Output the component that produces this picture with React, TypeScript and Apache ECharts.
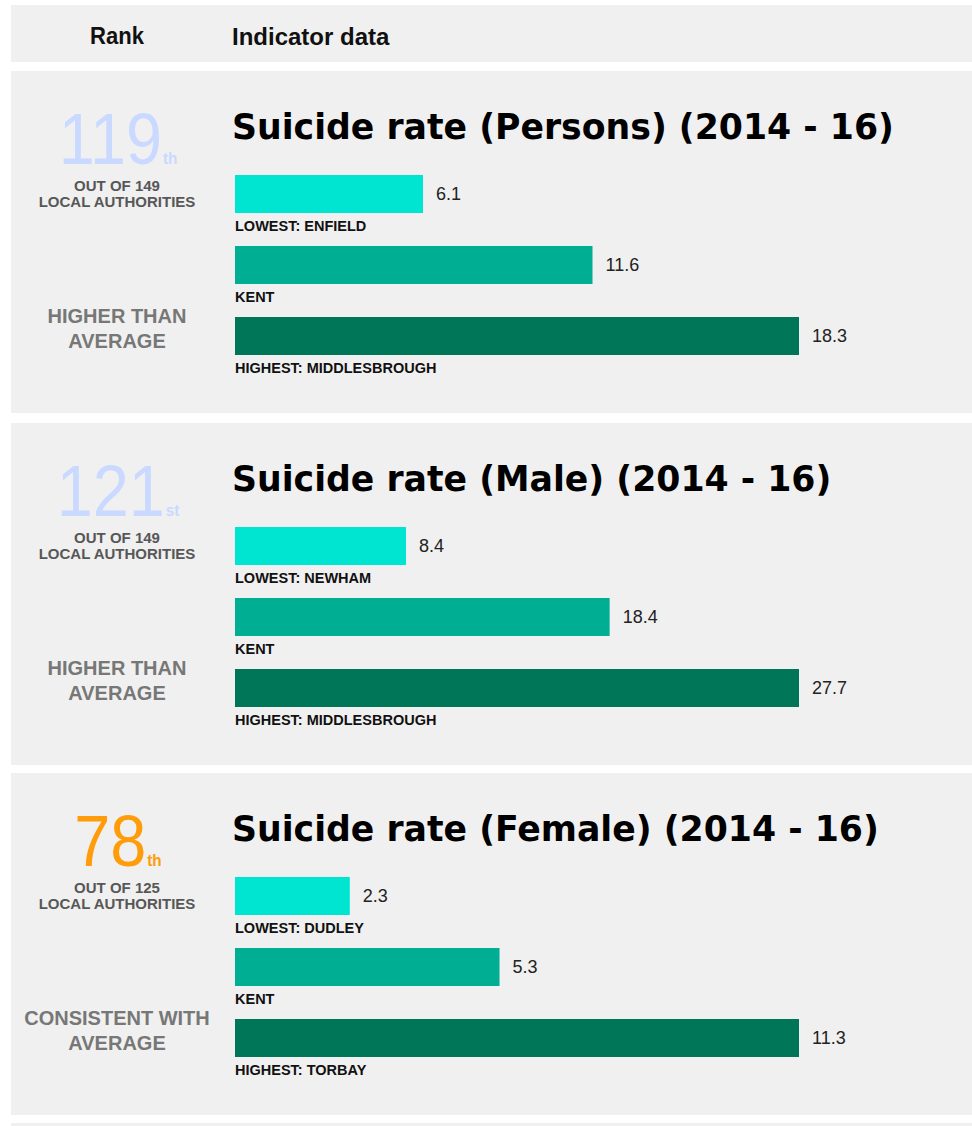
import React, { useEffect, useRef } from "react";
import * as echarts from "echarts";

const panelTitles = [
  "Suicide rate (Persons) (2014 - 16)",
  "Suicide rate (Male) (2014 - 16)",
  "Suicide rate (Female) (2014 - 16)",
];
const rankNumbers = ["119", "121", "78"];
const rankSuffixes = ["th", "st", "th"];
const rankOutOf = ["OUT OF 149", "OUT OF 149", "OUT OF 125"];
const rankColors = ["#cad9ff", "#cad9ff", "#ff9c0a"];
const comparisons = ["HIGHER THAN\nAVERAGE", "HIGHER THAN\nAVERAGE", "CONSISTENT WITH\nAVERAGE"];

const personsCategories = ["LOWEST: ENFIELD", "KENT", "HIGHEST: MIDDLESBROUGH"];
const personsValues = [6.1, 11.6, 18.3];
const maleCategories = ["LOWEST: NEWHAM", "KENT", "HIGHEST: MIDDLESBROUGH"];
const maleValues = [8.4, 18.4, 27.7];
const femaleCategories = ["LOWEST: DUDLEY", "KENT", "HIGHEST: TORBAY"];
const femaleValues = [2.3, 5.3, 11.3];

const barColors = ["#00e5d2", "#00ae94", "#007658"];

const panelCategories = [personsCategories, maleCategories, femaleCategories];
const panelValues = [personsValues, maleValues, femaleValues];

const W = 972;
const H = 1126;
const PANEL_TOP = [71, 423, 773];
const PANEL_H = 342;
const SANS = "'Liberation Sans', Arial, sans-serif";
const TITLE_FONT = "'DejaVu Sans', Verdana, sans-serif";

export default function App() {
  const ref = useRef<HTMLDivElement>(null);

  useEffect(() => {
    document.body.style.margin = "0";
    const chart = echarts.init(ref.current!, null, { renderer: "svg" });

    const graphics: any[] = [];
    graphics.push({ type: "rect", shape: { x: 11, y: 5, width: W - 11, height: 57 }, style: { fill: "#f0f0f0" }, silent: true });
    graphics.push({ type: "text", x: 117, y: 36, scaleX: 0.92, originX: 0, style: { text: "Rank", font: `bold 24px ${SANS}`, fill: "#111", textAlign: "center", textVerticalAlign: "middle" } });
    graphics.push({ type: "text", x: 232, y: 36, style: { text: "Indicator data", font: `bold 24px ${SANS}`, fill: "#111", textAlign: "left", textVerticalAlign: "middle" } });
    graphics.push({ type: "rect", shape: { x: 11, y: 1123, width: W - 11, height: 10 }, style: { fill: "#f0f0f0" }, silent: true });

    const grids: any[] = [];
    const xAxes: any[] = [];
    const yAxes: any[] = [];
    const series: any[] = [];

    for (let i = 0; i < 3; i++) {
      const top = PANEL_TOP[i];
      const off = top - 71;
      graphics.push({ type: "rect", shape: { x: 11, y: top, width: W - 11, height: PANEL_H }, style: { fill: "#f0f0f0" }, silent: true });
      graphics.push({
        type: "text", x: 232, y: 127 + off,
        style: { text: panelTitles[i], font: `bold 34.7px ${TITLE_FONT}`, fill: "#000", textAlign: "left", textVerticalAlign: "middle" },
      });
      graphics.push({
        type: "text", x: 118, y: 103 + off, scaleX: 0.9, originX: 0,
        style: {
          text: `{n|${rankNumbers[i]}}{s|${rankSuffixes[i]}}`,
          textAlign: "center", textVerticalAlign: "top",
          rich: {
            n: { fontSize: 72, fontFamily: SANS, fill: rankColors[i], lineHeight: 72, verticalAlign: "bottom" },
            s: { fontSize: 17, fontWeight: "bold", fontFamily: SANS, fill: rankColors[i], lineHeight: 17, verticalAlign: "bottom", padding: [0, 0, 9, 1] },
          },
        },
      });
      graphics.push({
        type: "text", x: 117, y: 193 + off,
        style: { text: `${rankOutOf[i]}\nLOCAL AUTHORITIES`, font: `bold 15px ${SANS}`, fill: "#575757", textAlign: "center", textVerticalAlign: "middle", lineHeight: 16 },
      });
      graphics.push({
        type: "text", x: 117, y: 328 + off,
        style: { text: comparisons[i], font: `bold 20px ${SANS}`, fill: "#777777", textAlign: "center", textVerticalAlign: "middle", lineHeight: 25 },
      });

      const vals = panelValues[i];
      const cats = panelCategories[i];
      const maxV = Math.max(...vals);
      grids.push({ left: 235, width: 564, top: 158.5 + off, height: 213, containLabel: false });
      xAxes.push({ gridIndex: i, type: "value", min: 0, max: maxV, show: false });
      yAxes.push({ gridIndex: i, type: "category", data: cats, inverse: true, show: false });
      series.push({
        type: "bar", xAxisIndex: i, yAxisIndex: i, barWidth: 38, silent: true,
        data: vals.map((v, k) => ({ value: v, itemStyle: { color: barColors[k] } })),
        label: { show: true, position: "right", distance: 13, formatter: "{c}", fontSize: 18, fontFamily: SANS, color: "#222" },
      });
      series.push({
        type: "bar", xAxisIndex: i, yAxisIndex: i, barWidth: 38, barGap: "-100%", silent: true,
        data: vals.map((v) => ({ value: v, itemStyle: { color: "rgba(0,0,0,0)" } })),
        label: {
          show: true, position: [0, "100%"], offset: [0, 5], align: "left", verticalAlign: "top",
          formatter: (p: any) => cats[p.dataIndex], fontSize: 14.5, fontWeight: "bold", fontFamily: SANS, color: "#111",
        },
      });
    }

    chart.setOption({
      animation: false,
      backgroundColor: "#ffffff",
      graphic: { elements: graphics },
      grid: grids,
      xAxis: xAxes,
      yAxis: yAxes,
      series,
    });
    return () => chart.dispose();
  }, []);

  return <div ref={ref} style={{ position: "absolute", left: 0, top: 0, width: W, height: H }} />;
}
